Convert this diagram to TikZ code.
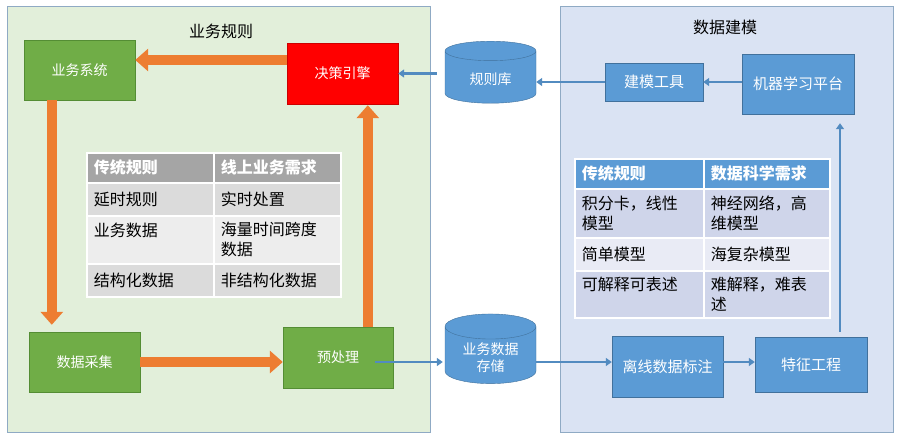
\documentclass[tikz,border=0pt]{standalone}
\usepackage{fontspec}
\setmainfont{Noto Sans CJK SC}
\usetikzlibrary{arrows.meta,shapes.geometric}
\definecolor{PanelGreen}{RGB}{226,239,218}
\definecolor{PanelBlue}{RGB}{218,227,243}
\definecolor{PanelLine}{RGB}{143,170,196}
\definecolor{BoxGreen}{RGB}{112,173,71}
\definecolor{BoxGreenLine}{RGB}{84,141,52}
\definecolor{BoxBlue}{RGB}{91,155,213}
\definecolor{BoxBlueLine}{RGB}{65,113,156}
\definecolor{FlowOrange}{RGB}{237,125,49}
\definecolor{HeadGray}{RGB}{165,165,165}
\definecolor{RowGray}{RGB}{219,219,219}
\definecolor{RowGrayLight}{RGB}{237,237,237}
\definecolor{RowBlue}{RGB}{207,213,234}
\definecolor{RowBlueLight}{RGB}{233,235,245}

\begin{document}
\begin{tikzpicture}[x=1pt,y=-1pt,
      panel/.style={draw=PanelLine,line width=1pt},
      title/.style={font=\fontsize{16}{19}\selectfont},
      gbox/.style={draw=BoxGreenLine,fill=BoxGreen,text=white,minimum width=111pt,minimum height=60pt,font=\fontsize{14}{17}\selectfont},
      rbox/.style={draw=red!80!black,fill=red,text=white,minimum width=111pt,minimum height=61pt,font=\fontsize{14}{17}\selectfont},
      bbox/.style={draw=BoxBlueLine,fill=BoxBlue,text=white,align=center,font=\fontsize{15}{18}\selectfont},
      db/.style={cylinder,shape border rotate=90,aspect=0.4,draw=BoxBlueLine,fill=BoxBlue,text=white,align=center,minimum width=91pt,minimum height=62pt,font=\fontsize{14}{17}\selectfont},
      cell/.style={anchor=north west,draw=white,line width=1.5pt,align=left,inner xsep=7pt,inner ysep=3pt,font=\fontsize{16}{20}\selectfont},
      lcell/.style={cell,text width=113pt,minimum height=#1},
      rcell/.style={cell,text width=#1},
      hcell/.style={font=\bfseries\fontsize{16}{20}\selectfont,text=white},
      bigarrow/.style={-{Triangle[width=22pt,length=13pt]},line width=10pt,FlowOrange},
      thinarrow/.style={-{Triangle[width=8pt,length=6pt]},line width=2.5pt,BoxBlue!90!black}
    ]
      \useasboundingbox (0,0) rectangle (899,437);
      \draw[panel,fill=PanelGreen] (7,6) rectangle (430,432);
      \draw[panel,fill=PanelBlue] (560,6) rectangle (893,432);
      \node[title] (ruletitle) at (221,31) {业务规则};
      \node[title] (modeltitle) at (725,27) {数据建模};

      \node[gbox] (sys) at (79.5,70) {业务系统};
      \node[rbox] (engine) at (342.5,73.5) {决策引擎};
      \node[gbox] (collect) at (84.5,362) {数据采集};
      \node[gbox,minimum width=110pt,minimum height=61pt] (pre) at (338,357.5) {预处理};

      \node[lcell=30pt,fill=HeadGray,hcell] (lh1) at (86,152) {传统规则};
      \node[lcell=30pt,fill=HeadGray,hcell] (lh2) at (213,152) {线上业务需求};
      \node[lcell=33pt,fill=RowGray] (l11) at (86,182) {延时规则};
      \node[lcell=33pt,fill=RowGray] (l12) at (213,182) {实时处置};
      \node[lcell=48pt,fill=RowGrayLight] (l21) at (86,215) {业务数据\\\mbox{}};
      \node[lcell=48pt,fill=RowGrayLight] (l22) at (213,215) {海量时间跨度\\数据};
      \node[lcell=33pt,fill=RowGray] (l31) at (86,263) {结构化数据};
      \node[lcell=33pt,fill=RowGray] (l32) at (213,263) {非结构化数据};

      \draw[bigarrow] (engine.west |- 0,60) -- (sys.east |- 0,60);
      \draw[bigarrow] ([xshift=28pt]sys.south west) -- ([xshift=23pt,yshift=7pt]collect.north west);
      \draw[bigarrow] (collect.east) -- (pre.west |- collect.east);
      \draw[bigarrow] ([xshift=85pt]pre.north west) -- ([xshift=81pt,yshift=-1pt]engine.south west);

      \node[db] (rules) at (490.5,79) {规则库};
      \node[db,minimum height=61pt] (store) at (490.5,357.5) {业务数据\\存储};
      \node[bbox,minimum width=98pt,minimum height=38pt] (tool) at (654,82) {建模工具};
      \node[bbox,minimum width=112pt,minimum height=60pt] (ml) at (798,84) {机器学习平台};
      \node[bbox,minimum width=111pt,minimum height=61pt] (label) at (667.5,366.5) {离线数据标注};
      \node[bbox,minimum width=112pt,minimum height=55pt] (feat) at (811,364.5) {特征工程};

      \node[rcell=115pt,minimum height=30pt,fill=BoxBlue,hcell] (rh1) at (574,158) {传统规则};
      \node[rcell=112pt,minimum height=30pt,fill=BoxBlue,hcell] (rh2) at (703,158) {数据科学需求};
      \node[rcell=115pt,minimum height=49pt,fill=RowBlue] (r11) at (574,188) {积分卡，线性\\模型};
      \node[rcell=112pt,minimum height=49pt,fill=RowBlue] (r12) at (703,188) {神经网络，高\\维模型};
      \node[rcell=115pt,minimum height=33pt,fill=RowBlueLight] (r21) at (574,237) {简单模型};
      \node[rcell=112pt,minimum height=33pt,fill=RowBlueLight] (r22) at (703,237) {海复杂模型};
      \node[rcell=115pt,minimum height=47pt,fill=RowBlue] (r31) at (574,270) {可解释可表述\\\mbox{}};
      \node[rcell=112pt,minimum height=47pt,fill=RowBlue] (r32) at (703,270) {难解释，难表\\述};

      \draw[thinarrow] ([xshift=-8pt]rules.west |- engine.east) -- (engine.east);
      \draw[thinarrow] (tool.west) -- (rules.east |- tool.west);
      \draw[thinarrow] (ml.west |- tool.east) -- (tool.east);
      \draw[thinarrow] ([xshift=-18pt,yshift=-4.5pt]pre.east) -- ([xshift=-2pt]store.west |- 0,362);
      \draw[thinarrow] (store.east |- 0,362) -- (label.west |- 0,362);
      \draw[thinarrow] (label.east |- 0,362) -- (feat.west |- 0,362);
      \draw[thinarrow] ([xshift=29pt,yshift=5pt]feat.north) -- ([xshift=42pt,yshift=-9pt]ml.south);
    \end{tikzpicture}
\end{document}
